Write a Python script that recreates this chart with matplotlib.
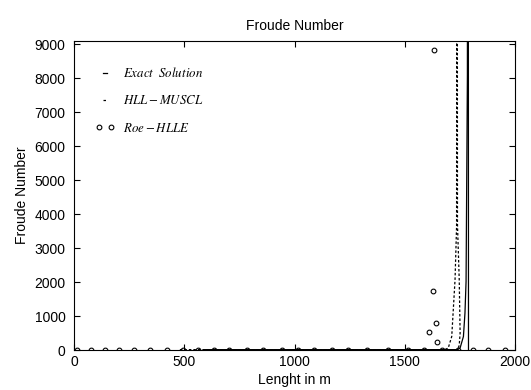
import matplotlib
matplotlib.use('Agg')
import matplotlib.pyplot as plt
from matplotlib.legend_handler import HandlerLine2D

plt.rcParams['font.family'] = ['Liberation Sans', 'DejaVu Sans']
plt.rcParams['mathtext.fontset'] = 'stix'

# exact solution (solid)
ex_x = [590, 1740, 1751, 1766, 1773, 1778, 1784, 1787, 1789]
ex_y = [25, 25, 75, 410, 1100, 2030, 8080, 40000, 0]

# HLL-MUSCL (dotted)
hll_x = [480, 1680, 1697, 1713, 1728, 1735, 1737, 1739, 1747, 1751, 1747, 1738]
hll_y = [25, 25, 70, 410, 2080, 3650, 30000, 3700, 2080, 510, 150, 0]

# Roe-HLLE (circles)
roe_x = [14, 77, 141, 204, 272, 345, 422, 494, 562, 635, 703, 785, 857, 943,
         1016, 1088, 1170, 1243, 1329, 1424, 1515, 1587, 1669, 1741, 1810,
         1878, 1955, 1633, 1627, 1641, 1612, 1648]
roe_y = [0] * 27 + [8835, 1735, 802, 537, 260]

xticks = [0, 500, 1000, 1500, 2000]
yticks = [0, 1000, 2000, 3000, 4000, 5000, 6000, 7000, 8000, 9000]

fig = plt.figure(figsize=(5.31, 3.9), dpi=100)
ax = fig.add_axes([0.1394, 0.1013, 0.8305, 0.7943])

ax.plot(ex_x, ex_y, '-', color='black', lw=0.9, label=r'$Exact\ \ Solution$')
ax.plot(hll_x, hll_y, color='black', lw=0.9, linestyle=(0, (2, 1.6)),
        label=r'$HLL-MUSCL$')
roe, = ax.plot(roe_x, roe_y, 'o', color='black', ms=3.4, mfc='none', mew=0.8,
               label=r'$Roe-HLLE$')

ax.set_xlim(0, 2000)
ax.set_ylim(0, 9100)
ax.set_xticks(xticks)
ax.set_yticks(yticks)
ax.tick_params(direction='in', top=True, right=True, length=4, width=0.8,
               labelsize=10)
ax.tick_params(axis='x', pad=3)
ax.tick_params(axis='y', pad=6)
for s in ax.spines.values():
    s.set_linewidth(0.8)

ax.set_title('Froude Number', fontsize=10, pad=8)
ax.set_xlabel('Lenght in m', fontsize=10, labelpad=3)
ax.set_ylabel('Froude Number', fontsize=10, labelpad=4)

ax.legend(loc='upper left', bbox_to_anchor=(0.03, 0.955), frameon=False,
          fontsize=9.3, handlelength=0.9, handletextpad=1.0,
          labelspacing=1.1, numpoints=2,
          handler_map={roe: HandlerLine2D(marker_pad=0, numpoints=2)})

fig.savefig('out.png', dpi=100)
